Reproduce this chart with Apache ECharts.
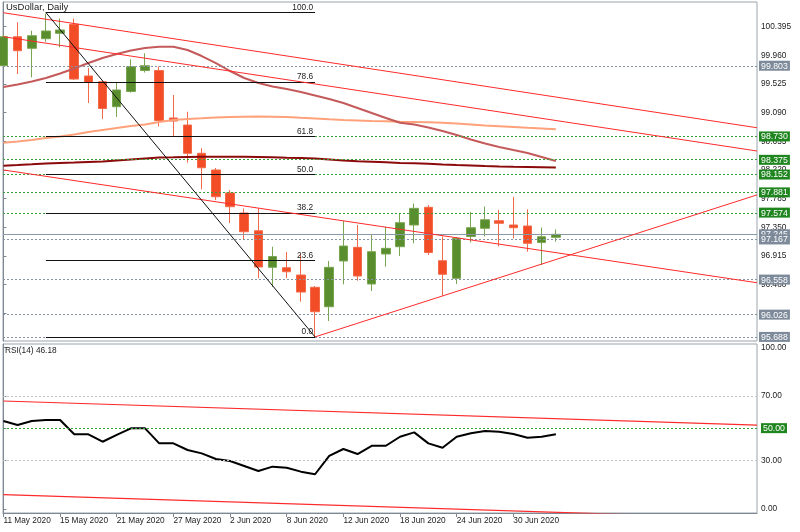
<!DOCTYPE html>
<html><head><meta charset="utf-8">
<script src="https://cdn.jsdelivr.net/npm/echarts@6/dist/echarts.min.js"></script>
<style>html,body{margin:0;padding:0;background:#fff}#c{width:800px;height:532px}</style>
</head><body><div id="c"></div>
<script>
// ---------- data ----------
const dates = ['11 May 2020','12 May 2020','13 May 2020','14 May 2020','15 May 2020','18 May 2020','19 May 2020','20 May 2020','21 May 2020','22 May 2020',
  '25 May 2020','26 May 2020','27 May 2020','28 May 2020','29 May 2020','1 Jun 2020','2 Jun 2020','3 Jun 2020','4 Jun 2020','5 Jun 2020',
  '8 Jun 2020','9 Jun 2020','10 Jun 2020','11 Jun 2020','12 Jun 2020','15 Jun 2020','16 Jun 2020','17 Jun 2020','18 Jun 2020','19 Jun 2020',
  '22 Jun 2020','23 Jun 2020','24 Jun 2020','25 Jun 2020','26 Jun 2020','29 Jun 2020','30 Jun 2020','1 Jul 2020','2 Jul 2020','3 Jul 2020'];
const opens  = [99.803,100.243,100.067,100.213,100.295,100.431,99.647,99.560,99.181,99.412,99.730,99.730,99.010,98.903,98.474,98.221,97.872,97.568,97.299,96.744,96.738,96.627,96.441,96.146,96.840,97.047,96.491,96.946,97.057,97.386,97.655,96.844,96.577,97.211,97.336,97.451,97.386,97.371,97.120,97.199];
const highs  = [100.284,100.462,100.334,100.595,100.522,100.519,99.768,99.571,99.541,99.900,99.991,99.791,99.359,99.105,98.550,98.251,97.917,97.636,97.639,97.057,96.976,96.946,96.460,96.840,97.447,97.386,97.245,97.360,97.563,97.712,97.689,97.211,97.204,97.583,97.667,97.614,97.815,97.624,97.348,97.318];
const lows   = [99.783,99.677,99.627,100.167,100.082,99.586,99.237,98.994,99.025,99.394,99.700,98.881,98.726,98.331,97.928,97.765,97.416,97.158,96.577,96.445,96.582,96.222,95.688,95.929,96.486,96.541,96.384,96.753,96.916,97.108,96.931,96.316,96.491,97.120,97.211,97.063,97.184,96.981,96.779,97.133];
const closes = [100.243,100.031,100.258,100.330,100.345,99.601,99.548,99.154,99.435,99.788,99.803,98.972,98.964,98.474,98.255,97.815,97.664,97.284,96.749,96.908,96.677,96.369,96.070,96.744,97.067,96.612,96.981,97.032,97.421,97.639,96.969,96.638,97.184,97.345,97.466,97.412,97.345,97.108,97.208,97.245];

const maSalmon = [98.635,98.653,98.676,98.706,98.729,98.759,98.797,98.828,98.858,98.888,98.911,98.949,98.979,98.994,99.005,99.017,99.025,99.029,99.032,99.029,99.025,99.013,99.002,98.990,98.979,98.972,98.964,98.960,98.953,98.949,98.944,98.937,98.926,98.911,98.896,98.885,98.873,98.861,98.850,98.838];
const maIndian = [99.480,99.518,99.563,99.617,99.685,99.761,99.844,99.920,99.981,100.034,100.072,100.090,100.092,100.041,99.950,99.844,99.723,99.617,99.541,99.488,99.450,99.404,99.351,99.298,99.237,99.161,99.085,99.010,98.938,98.911,98.865,98.812,98.752,98.683,98.623,98.570,98.524,98.479,98.418,98.357];
const maDark   = [98.286,98.296,98.307,98.319,98.327,98.334,98.342,98.350,98.365,98.380,98.395,98.410,98.413,98.418,98.421,98.422,98.422,98.421,98.418,98.413,98.407,98.403,98.395,98.380,98.365,98.353,98.346,98.337,98.327,98.322,98.315,98.304,98.296,98.289,98.281,98.274,98.269,98.266,98.262,98.258];

const rsiValues = [54.4,51.9,54.4,55.0,55.0,46.2,46.2,41.6,45.8,49.9,49.9,40.6,40.6,36.5,34.4,30.9,29.7,26.6,23.5,26.2,25.5,23.1,21.5,32.8,37.1,34.0,39.1,39.1,44.7,47.4,40.6,37.9,44.7,46.8,48.2,47.8,46.4,44.1,44.7,46.18];

const priceTicks = [100.395,99.960,99.525,99.090,98.655,98.220,97.785,97.350,96.915,96.480,96.045];
const rsiTicks = [0,30,50,70,100];
const dateTickBars = [0,4,8,12,16,20,24,28,32,36];

const greenLevels = [98.730,98.375,98.152,97.881,97.574];
const greyLevels  = [99.803,97.167,96.558,96.026,95.688];
const rsiGreyLevels = [70,30];
const rsiGreenLevel = 50;

const fibPercents = [0,23.6,38.2,50,61.8,78.6,100];
const fibHigh = 100.61, fibLow = 95.688, fibStartBar = 3, fibEndBar = 22;

// trend lines: [barIndex, value] endpoints
const priceTrendLines = [
  [[0,100.607],[53.2,98.862]],
  [[0,100.243],[53.2,98.509]],
  [[0,98.221],[53.2,96.510]],
  [[22,95.688],[53.2,97.843]]
];
const rsiTrendLines = [
  [[0,66.8],[53.2,51.9]],
  [[0,8.84],[53.2,-6.0]]
];

// ---------- chart ----------
const FONT = "'Liberation Sans', Arial, sans-serif";
const TXT = '#222';
const AX = '#7d8894';
const GREEN_BOX = '#1f861f';
const GREY_BOX = '#7d8a9a';
const chart = echarts.init(document.getElementById('c'), null, {renderer:'canvas'});

const PMIN = 95.626, PMAX = 100.77, XMIN = -0.03, XMAX = 53.2;
const lastClose = closes[closes.length-1];
const lastRsi = rsiValues[rsiValues.length-1];

function lineSeries(pts, color, width, xi, yi, z){
  return {type:'line', xAxisIndex:xi, yAxisIndex:yi, data:pts, showSymbol:false, symbol:'none',
    lineStyle:{color:color, width:width}, silent:true, z:z||3, clip:true};
}
const boxRich = (bg)=>({backgroundColor:bg, color:'#fff', padding:[1,2,0,2], fontSize:8.8, fontFamily:FONT});

const series = [];
series.push({
  type:'line', xAxisIndex:0, yAxisIndex:0, data:[], z:1, silent:true,
  markLine:{symbol:'none', silent:true, label:{show:false},
    data: greenLevels.map(v=>({yAxis:v, lineStyle:{color:'#3a9e3a', type:[2,2], width:1}}))
      .concat(greyLevels.map(v=>({yAxis:v, lineStyle:{color:'#8593a3', type:[2,2], width:1}})))
      .concat([{yAxis:lastClose, lineStyle:{color:'#8a98a8', type:'solid', width:1}}])
  }
});
series.push({
  type:'candlestick', xAxisIndex:0, yAxisIndex:0, barWidth:9, z:2, clip:true,
  data: opens.map((o,i)=>[i, o, closes[i], lows[i], highs[i]]),
  itemStyle:{color:'#5a8d2d', color0:'#f24d27', borderColor:'#79a651', borderColor0:'#f36a49', borderWidth:1}
});
series.push(lineSeries(maSalmon.map((v,i)=>[i,v]), '#ffa27c', 2, 0, 0, 4));
series.push(lineSeries(maIndian.map((v,i)=>[i,v]), '#c45a5a', 2, 0, 0, 4));
series.push(lineSeries(maDark.map((v,i)=>[i,v]), '#8b0a0a', 2, 0, 0, 4));
priceTrendLines.forEach(p=>series.push(lineSeries(p, '#ff2a2a', 1, 0, 0, 5)));
series.push(lineSeries([[fibStartBar, fibHigh],[fibEndBar, fibLow]], '#111', 1, 0, 0, 5));
series.push({
  type:'line', xAxisIndex:0, yAxisIndex:0, data:[], z:5, silent:true,
  markLine:{symbol:'none', silent:true,
    lineStyle:{color:'#111', type:'solid', width:1},
    label:{show:true, position:'insideEndTop', distance:[2,1], color:TXT, fontSize:8.3, fontFamily:FONT},
    data: fibPercents.map(p=>{
      const lv = fibLow + (fibHigh-fibLow)*p/100;
      return [{coord:[fibStartBar, lv], label:{formatter:p.toFixed(1)}}, {coord:[fibEndBar, lv]}];
    })
  }
});
series.push({
  type:'line', xAxisIndex:1, yAxisIndex:3, data:[], z:1, silent:true,
  markLine:{symbol:'none', silent:true, label:{show:false},
    data: rsiGreyLevels.map(v=>({yAxis:v, lineStyle:{color:'#c4c4c4', type:[2,2], width:1}}))
      .concat([{yAxis:rsiGreenLevel, lineStyle:{color:'#3a9e3a', type:[2,2], width:1}}])
  }
});
rsiTrendLines.forEach(p=>series.push(lineSeries(p, '#ff2a2a', 1.2, 1, 3, 3)));
series.push(lineSeries(rsiValues.map((v,i)=>[i,v]), '#000', 2, 1, 3, 4));

const option = {
  animation:false,
  backgroundColor:'#fff',
  title:[
    {text:'UsDollar, Daily', left:6, top:2, padding:0, textStyle:{fontSize:9.5, fontWeight:'normal', color:TXT, fontFamily:FONT}},
    {text:'RSI(14) ' + lastRsi.toFixed(2), left:5, top:347, padding:0, textStyle:{fontSize:8.3, fontWeight:'normal', color:TXT, fontFamily:FONT}}
  ],
  grid:[
    {left:3, right:43, top:2, height:339, show:true, borderColor:'#9aa4ae', borderWidth:1},
    {left:3, right:43, top:344, height:169, show:true, borderColor:'#9aa4ae', borderWidth:1}
  ],
  xAxis:[
    {type:'value', gridIndex:0, min:XMIN, max:XMAX, axisLine:{show:false}, axisTick:{show:false}, axisLabel:{show:false}, splitLine:{show:false}},
    {type:'value', gridIndex:1, min:XMIN, max:XMAX, splitLine:{show:false},
      axisLine:{show:true, onZero:false, lineStyle:{color:AX}},
      axisTick:{show:true, customValues:dateTickBars, length:4, lineStyle:{color:AX}},
      axisLabel:{customValues:dateTickBars, formatter:v=>dates[Math.round(v)], align:'left', margin:4, fontSize:8.3, color:TXT, fontFamily:FONT}
    }
  ],
  yAxis:[
    {type:'value', gridIndex:0, position:'right', min:PMIN, max:PMAX, splitLine:{show:false},
      axisLine:{show:true, lineStyle:{color:AX}},
      axisTick:{show:true, customValues:priceTicks, length:3, lineStyle:{color:AX}},
      axisLabel:{customValues:priceTicks, formatter:v=>v.toFixed(3), margin:4, fontSize:8.3, color:TXT, fontFamily:FONT}
    },
    {type:'value', gridIndex:0, position:'right', min:PMIN, max:PMAX, splitLine:{show:false}, z:9,
      axisLine:{show:false}, axisTick:{show:false},
      axisLabel:{customValues:[lastClose], margin:2, fontSize:8.8, fontFamily:FONT,
        formatter:v=>'{n|' + v.toFixed(3) + '}', rich:{n:boxRich(GREY_BOX)}}
    },
    {type:'value', gridIndex:0, position:'right', min:PMIN, max:PMAX, splitLine:{show:false}, z:10,
      axisLine:{show:false}, axisTick:{show:false},
      axisLabel:{customValues:greenLevels.concat(greyLevels), margin:2, fontSize:8.8, fontFamily:FONT,
        formatter:v=>(greenLevels.indexOf(v)>=0?'{g|':'{n|') + v.toFixed(3) + '}',
        rich:{g:boxRich(GREEN_BOX), n:boxRich(GREY_BOX)}}
    },
    {type:'value', gridIndex:1, position:'right', min:-2.47, max:102.04, splitLine:{show:false},
      axisLine:{show:true, lineStyle:{color:AX}},
      axisTick:{show:true, customValues:rsiTicks, length:3, lineStyle:{color:AX}},
      axisLabel:{customValues:rsiTicks, margin:4, fontSize:8.3, color:TXT, fontFamily:FONT,
        formatter:v=>(v===rsiGreenLevel?'{g|'+v.toFixed(2)+'}':v.toFixed(2)),
        rich:{g:boxRich(GREEN_BOX)}}
    }
  ],
  series:series
};
chart.setOption(option);
</script>
</body></html>
